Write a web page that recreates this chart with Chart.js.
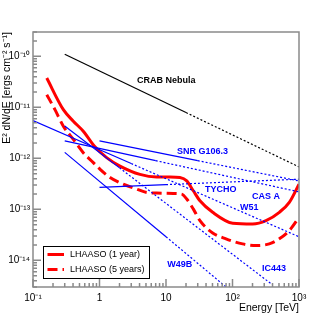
<!DOCTYPE html>
<html>
<head>
<meta charset="utf-8">
<script src="https://cdn.jsdelivr.net/npm/chart.js@4/dist/chart.umd.min.js"></script>
<style>
  body { margin: 0; background: #fff; }
</style>
</head>
<body>
<canvas id="snr-chart" width="332" height="320"></canvas>
<script>
// Energy in TeV, flux as E^2 dN/dE in ergs cm^-2 s^-1
// Source lines: solid from point 0 to point 1, dotted extrapolation after
const crabE = [0.3, 20, 1000];
const crabF = [1.1e-10, 7.9e-12, 6.8e-13];
const g106E = [1, 30, 1000];
const g106F = [2.2e-12, 9.0e-13, 3.6e-13];
const casaE = [0.3, 7, 1000];
const casaF = [2.2e-12, 9.0e-13, 2.2e-13];
const tychoE = [1, 10, 1000];
const tychoF = [2.7e-13, 3.05e-13, 3.9e-13];
const w51E = [0.1, 3, 1000];
const w51F = [5.5e-12, 7.9e-13, 2.9e-14];
const ic443E = [0.3, 2, 400];
const ic443F = [4.3e-12, 6.5e-13, 3.3e-15];
const w49bE = [0.3, 10, 80];
const w49bF = [1.31e-12, 2.9e-14, 3.0e-15];

// LHAASO sensitivity curves
const lhaaso1E = [0.161, 0.286, 0.404, 0.57, 0.855, 1.28, 2.03, 4.06, 7.24, 11.5, 16.2, 20.5, 25.7, 32.4, 50.3, 101, 201, 319, 506, 715, 1000];
const lhaaso1F = [3.75e-11, 9.0e-12, 5.35e-12, 3.41e-12, 1.68e-12, 1.03e-12, 7.05e-13, 4.85e-13, 4.32e-13, 4.32e-13, 4.2e-13, 3.61e-13, 2.31e-13, 1.47e-13, 8.75e-14, 5.34e-14, 5.17e-14, 6.0e-14, 8.75e-14, 1.37e-13, 3.11e-13];
const lhaaso5E = [0.161, 0.214, 0.286, 0.404, 0.57, 0.807, 1.02, 1.44, 2.28, 3.62, 5.13, 7.24, 12.9, 17.2, 20.5, 25.8, 32.4, 50.3, 79.8, 142, 226, 357, 506, 715, 1000];
const lhaaso5F = [1.77e-11, 9.0e-12, 4.27e-12, 2.35e-12, 1.29e-12, 8.26e-13, 6.1e-13, 4.2e-13, 3.11e-13, 2.49e-13, 2.14e-13, 2.08e-13, 2.05e-13, 1.99e-13, 1.59e-13, 1.01e-13, 6.0e-14, 3.45e-14, 2.64e-14, 2.1e-14, 1.95e-14, 2.1e-14, 2.64e-14, 3.83e-14, 6.98e-14];

// Axis ticks
const xTicks = [0.1, 1, 10, 100, 1000];
const xTickLabels = ['10⁻¹', '1', '10', '10²', '10³'];
const yTicks = [1e-14, 1e-13, 1e-12, 1e-11, 1e-10];
const yTickLabels = ['10⁻¹⁴', '10⁻¹³', '10⁻¹²', '10⁻¹¹', '10⁻¹⁰'];

// Source names, anchored at (energy, flux)
const labelText = ['CRAB Nebula', 'SNR G106.3', 'TYCHO', 'CAS A', 'W51', 'W49B', 'IC443'];
const labelE = [3.66, 14.6, 38.5, 196, 130, 10.4, 278];
const labelF = [3.43e-11, 1.39e-12, 2.5e-13, 1.82e-13, 1.11e-13, 8.1e-15, 6.8e-15];

const pts = (es, fs) => es.map((e, i) => ({x: e, y: fs[i]}));

function sourceLine(es, fs, color) {
  return {
    data: pts(es, fs),
    borderColor: color,
    borderWidth: 1.2,
    pointRadius: 0,
    tension: 0,
    segment: {
      borderDash: ctx => ctx.p0DataIndex >= 1 ? [2, 2] : undefined
    }
  };
}

const datasets = [
  sourceLine(crabE, crabF, '#000000'),
  sourceLine(g106E, g106F, '#0000ff'),
  sourceLine(casaE, casaF, '#0000ff'),
  sourceLine(tychoE, tychoF, '#0000ff'),
  sourceLine(w51E, w51F, '#0000ff'),
  sourceLine(ic443E, ic443F, '#0000ff'),
  sourceLine(w49bE, w49bF, '#0000ff'),
  {
    label: 'LHAASO (1 year)',
    data: pts(lhaaso1E, lhaaso1F),
    borderColor: '#ff0000',
    borderWidth: 3,
    pointRadius: 0,
    cubicInterpolationMode: 'monotone'
  },
  {
    label: 'LHAASO (5 years)',
    data: pts(lhaaso5E, lhaaso5F),
    borderColor: '#ff0000',
    borderWidth: 3,
    borderDash: [10, 5],
    pointRadius: 0,
    cubicInterpolationMode: 'monotone'
  }
];

// frame, inward ROOT-like ticks, source names and the legend box
const decorations = {
  id: 'decorations',
  afterDatasetsDraw(chart) {
    const {ctx, chartArea: a, scales: {x, y}} = chart;
    ctx.save();

    ctx.strokeStyle = '#8a8a8a';
    ctx.lineWidth = 1.5;
    ctx.strokeRect(a.left, a.top, a.right - a.left, a.bottom - a.top);

    ctx.beginPath();
    for (let d = -1; d <= 3; d++) {
      for (let m = 1; m < 10; m++) {
        const v = m * Math.pow(10, d);
        if (v > 1000) break;
        const px = x.getPixelForValue(v);
        ctx.moveTo(px, a.bottom);
        ctx.lineTo(px, a.bottom - (m === 1 ? 8 : 4));
      }
    }
    for (let d = -15; d <= -10; d++) {
      for (let m = 1; m < 10; m++) {
        const v = m * Math.pow(10, d);
        if (v < y.min || v > y.max) continue;
        const py = y.getPixelForValue(v);
        ctx.moveTo(a.left, py);
        ctx.lineTo(a.left + (m === 1 ? 8 : 4), py);
      }
    }
    ctx.stroke();

    ctx.font = 'bold 9px "Liberation Sans", Arial, sans-serif';
    ctx.textBaseline = 'middle';
    ctx.textAlign = 'left';
    labelText.forEach((t, i) => {
      ctx.fillStyle = i === 0 ? '#000000' : '#0000ff';
      ctx.fillText(t, x.getPixelForValue(labelE[i]), y.getPixelForValue(labelF[i]));
    });

    // legend
    ctx.fillStyle = '#ffffff';
    ctx.fillRect(43.5, 246.5, 106, 32);
    ctx.strokeStyle = '#000000';
    ctx.lineWidth = 1;
    ctx.strokeRect(43.5, 246.5, 106, 32);
    ctx.font = '9px "Liberation Sans", Arial, sans-serif';
    [7, 8].forEach((di, k) => {
      const ds = chart.data.datasets[di];
      const ly = 254.5 + k * 15;
      ctx.strokeStyle = ds.borderColor;
      ctx.lineWidth = ds.borderWidth;
      ctx.setLineDash(ds.borderDash || []);
      ctx.beginPath();
      ctx.moveTo(47.5, ly);
      ctx.lineTo(64, ly);
      ctx.stroke();
      ctx.setLineDash([]);
      ctx.fillStyle = '#000000';
      ctx.fillText(ds.label, 70, ly);
    });

    ctx.restore();
  }
};

const ctx = document.getElementById('snr-chart').getContext('2d');
new Chart(ctx, {
  type: 'line',
  data: { datasets: datasets },
  options: {
    responsive: false,
    animation: false,
    layout: { padding: { top: 32, right: 33, left: 0, bottom: 0 } },
    plugins: { legend: { display: false }, tooltip: { enabled: false } },
    scales: {
      x: {
        type: 'logarithmic',
        min: 0.1,
        max: 1000,
        afterFit: s => { s.height = 33; },
        afterBuildTicks: s => { s.ticks = xTicks.map(v => ({value: v})); },
        grid: { display: false, drawTicks: false },
        border: { display: false },
        ticks: {
          autoSkip: false,
          maxRotation: 0,
          padding: 5,
          color: '#000',
          font: { family: '"Liberation Sans", Arial, sans-serif', size: 10 },
          callback: v => xTickLabels[xTicks.indexOf(v)]
        },
        title: {
          display: true,
          text: 'Energy [TeV]',
          align: 'end',
          color: '#000',
          padding: { top: 0, bottom: 6 },
          font: { family: '"Liberation Sans", Arial, sans-serif', size: 10.5 }
        }
      },
      y: {
        type: 'logarithmic',
        min: 3.2e-15,
        max: 3e-10,
        afterFit: s => { s.width = 33; },
        afterBuildTicks: s => { s.ticks = yTicks.map(v => ({value: v})); },
        grid: { display: false, drawTicks: false },
        border: { display: false },
        ticks: {
          autoSkip: false,
          padding: 3,
          color: '#000',
          font: { family: '"Liberation Sans", Arial, sans-serif', size: 10 },
          callback: v => yTickLabels[yTicks.indexOf(v)]
        },
        title: {
          display: true,
          text: 'E² dN/dE [ergs cm⁻² s⁻¹]',
          align: 'end',
          color: '#000',
          padding: { top: 1, bottom: 0 },
          font: { family: '"Liberation Sans", Arial, sans-serif', size: 10.5 }
        }
      }
    }
  },
  plugins: [decorations]
});
</script>
</body>
</html>
